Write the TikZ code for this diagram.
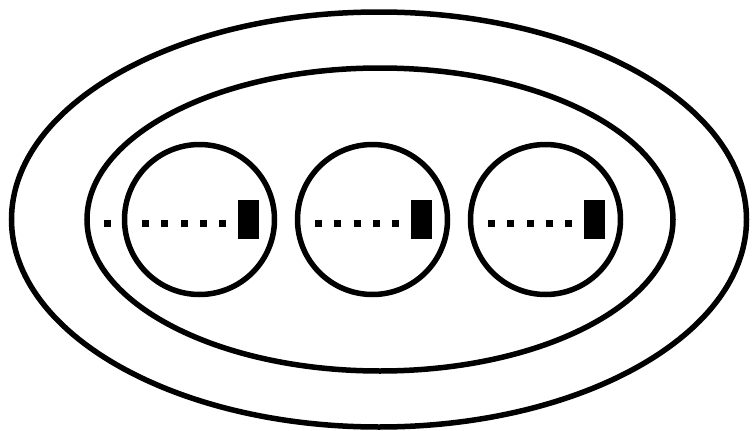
\documentclass[tikz,border=0pt]{standalone}
\usetikzlibrary{shapes.geometric, positioning}
\begin{document}
\begin{tikzpicture}[x=1pt, y=-1pt,
  ring/.style={draw, line width=5.5pt, ellipse, inner sep=0pt},
  cell/.style={draw, line width=5.5pt, circle, inner sep=0pt, minimum size=150pt},
  bead/.style={fill, inner sep=0pt, minimum size=7pt},
  plug/.style={fill, inner sep=0pt, minimum width=20.5pt, minimum height=39.5pt}
]
\useasboundingbox (0,0) rectangle (753,431);
% nested rings
\node[ring, minimum width=735pt, minimum height=415pt] (outer) at (379,219.5) {};
\node[ring, minimum width=586pt, minimum height=303pt] (inner) at (380,219.5) {};
% three cells, each with a dotted tail and a plug
\foreach \n/\x in {a/199.5, b/372.5, c/545.5} {
  \node[cell] (cell\n) at (\x,219.5) {};
  \node[plug] (plug\n) at ([xshift=49pt]cell\n.center) {};
  \foreach \k in {0,...,4}
    \node[bead] (bead\n\k) at ([xshift=-54pt+\k*19.25pt, yshift=-4pt]cell\n.center) {};
}
\node[bead] (lead) at ([xshift=-92pt, yshift=-4pt]cella.center) {};
\end{tikzpicture}
\end{document}
